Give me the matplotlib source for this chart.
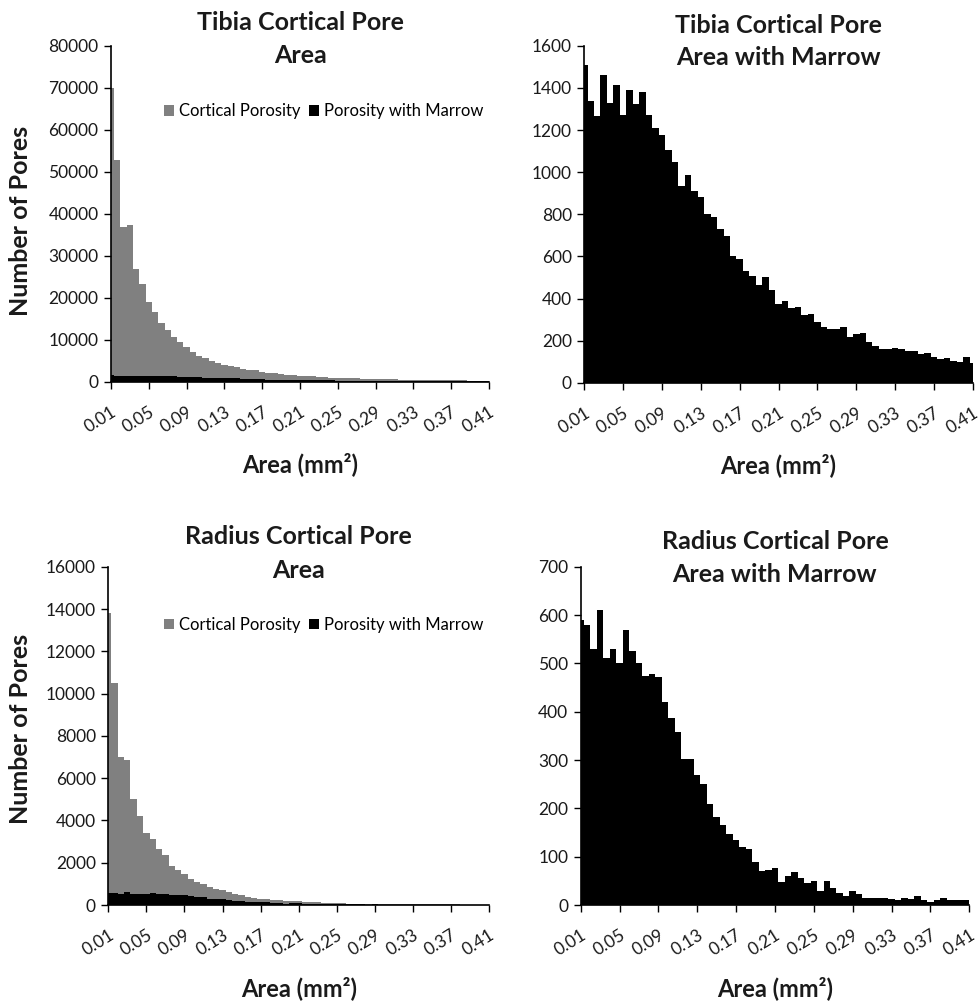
import numpy as np
import matplotlib
matplotlib.use("Agg")
import matplotlib.pyplot as plt
import matplotlib.transforms as mtrans

plt.rcParams['font.family'] = ['Lato', 'DejaVu Sans']

# -- category labels (every 6th bin is labelled)
tick_labels = ["0.01", "0.05", "0.09", "0.13", "0.17", "0.21",
               "0.25", "0.29", "0.33", "0.37", "0.41"]

# -- tibia: all cortical pores
tibia_all = [70000, 52700, 36900, 37300, 26800, 23300, 19100, 16700, 13900, 12300,
             10700, 9400, 8200, 7150, 6100, 5550, 4900, 4500, 4000, 3700,
             3400, 3100, 2800, 2700, 2400, 2200, 2000, 1900, 1700, 1600,
             1450, 1400, 1300, 1200, 1100, 1000, 950, 900, 850, 800,
             750, 700, 650, 620, 600, 560, 520, 500, 480, 450,
             430, 400, 380, 360, 350, 330, 320, 300, 290, 280, 270]

# -- tibia: pores with marrow
tibia_marrow = [1510, 1340, 1265, 1460, 1330, 1415, 1270, 1390, 1325, 1380,
                1270, 1210, 1175, 1105, 1050, 935, 985, 910, 880, 800,
                785, 730, 695, 600, 590, 530, 505, 465, 500, 440,
                375, 390, 355, 360, 320, 325, 290, 265, 255, 255,
                265, 215, 230, 235, 195, 175, 160, 160, 165, 160,
                150, 150, 135, 140, 120, 115, 118, 105, 100, 120, 95]

# -- radius: all cortical pores
radius_all = [13800, 10500, 7000, 6850, 5000, 4200, 3400, 3100, 2650, 2350,
              1850, 1650, 1450, 1250, 1100, 1000, 850, 750, 700, 620,
              520, 450, 380, 340, 300, 280, 250, 230, 200, 180,
              170, 150, 140, 120, 110, 100, 90, 80, 70, 65,
              60, 55, 52, 48, 45, 42, 40, 37, 35, 33,
              31, 30, 28, 27, 25, 24, 23, 22, 21, 20, 20]

# -- radius: pores with marrow
radius_marrow = [590, 580, 530, 610, 512, 530, 500, 570, 525, 500,
                 473, 478, 472, 420, 387, 357, 302, 302, 270, 250,
                 208, 183, 165, 147, 135, 120, 115, 90, 70, 72,
                 77, 48, 60, 68, 55, 45, 50, 30, 50, 36,
                 25, 18, 28, 22, 15, 15, 15, 15, 12, 10,
                 15, 12, 18, 10, 6, 10, 15, 10, 10, 10, 10]

GRAY = "#808080"
TXT = "#1a1a1a"

fig = plt.figure(figsize=(9.8, 10.02), dpi=100)
fig.patch.set_facecolor("white")

# shift rotated x labels a little to the left of their tick
shift = mtrans.ScaledTranslation(-4 / 72, 0, fig.dpi_scale_trans)


def style_axes(ax, n, ymax, ystep):
    ax.set_xlim(0, n - 1)
    ax.set_ylim(0, ymax)
    ax.set_yticks(np.arange(0, ymax + 1, ystep))
    ax.set_xticks(np.arange(0, n, 6))
    ax.set_xticklabels(tick_labels, rotation=32, ha="right",
                       rotation_mode="anchor", fontsize=12.5, color=TXT)
    for lbl in ax.get_xticklabels():
        lbl.set_transform(lbl.get_transform() + shift)
    ax.tick_params(axis="y", labelsize=12.5, labelcolor=TXT, length=5,
                   width=1, direction="out", pad=4)
    ax.tick_params(axis="x", length=5, width=1, direction="out", pad=11)
    for s in ["top", "right"]:
        ax.spines[s].set_visible(False)
    for s in ["left", "bottom"]:
        ax.spines[s].set_linewidth(1.2)
    ax.set_xlabel("Area (mm²)", fontsize=17, fontweight="bold",
                  labelpad=12, color=TXT)


def title(ax, line1, line2, y1, y2):
    ax.text(0.5, y1, line1, transform=ax.transAxes, ha="center", va="center",
            fontsize=18, fontweight="bold", color=TXT, clip_on=False)
    ax.text(0.5, y2, line2, transform=ax.transAxes, ha="center", va="center",
            fontsize=18, fontweight="bold", color=TXT, clip_on=False)


# ---- top left
ax1 = fig.add_axes([0.1133, 0.619, 0.3857, 0.3353])
x = np.arange(len(tibia_all))
ax1.bar(x, tibia_all, width=1.0, color=GRAY, label="Cortical Porosity")
ax1.bar(x, tibia_marrow, width=1.0, color="black", label="Porosity with Marrow")
style_axes(ax1, len(x), 80000, 10000)
ax1.set_ylabel("Number of Pores", fontsize=18, fontweight="bold", color=TXT)
ax1.yaxis.set_label_coords(-0.21, 0.48)
title(ax1, "Tibia Cortical Pore", "Area", 1.068, 0.97)
ax1.legend(loc="center right", bbox_to_anchor=(1.025, 0.805), ncol=2,
           frameon=False, fontsize=12, handlelength=0.6, handleheight=0.6,
           handletextpad=0.3, columnspacing=0.5)

# ---- top right
ax2 = fig.add_axes([0.5962, 0.618, 0.3965, 0.3363])
ax2.bar(x, tibia_marrow, width=1.0, color="black")
style_axes(ax2, len(x), 1600, 200)
title(ax2, "Tibia Cortical Pore", "Area with Marrow", 1.06, 0.965)

# ---- bottom left
ax3 = fig.add_axes([0.1105, 0.0968, 0.3885, 0.3376])
x = np.arange(len(radius_all))
ax3.bar(x, radius_all, width=1.0, color=GRAY, label="Cortical Porosity")
ax3.bar(x, radius_marrow, width=1.0, color="black", label="Porosity with Marrow")
style_axes(ax3, len(x), 16000, 2000)
ax3.set_ylabel("Number of Pores", fontsize=18, fontweight="bold", color=TXT)
ax3.yaxis.set_label_coords(-0.2, 0.52)
title(ax3, "Radius Cortical Pore", "Area", 1.09, 0.99)
ax3.legend(loc="center right", bbox_to_anchor=(1.025, 0.828), ncol=2,
           frameon=False, fontsize=12, handlelength=0.6, handleheight=0.6,
           handletextpad=0.3, columnspacing=0.5)

# ---- bottom right
ax4 = fig.add_axes([0.5925, 0.0968, 0.3965, 0.3376])
ax4.bar(x, radius_marrow, width=1.0, color="black")
style_axes(ax4, len(x), 700, 100)
title(ax4, "Radius Cortical Pore", "Area with Marrow", 1.075, 0.977)

fig.savefig("out.png", dpi=100, facecolor="white")
